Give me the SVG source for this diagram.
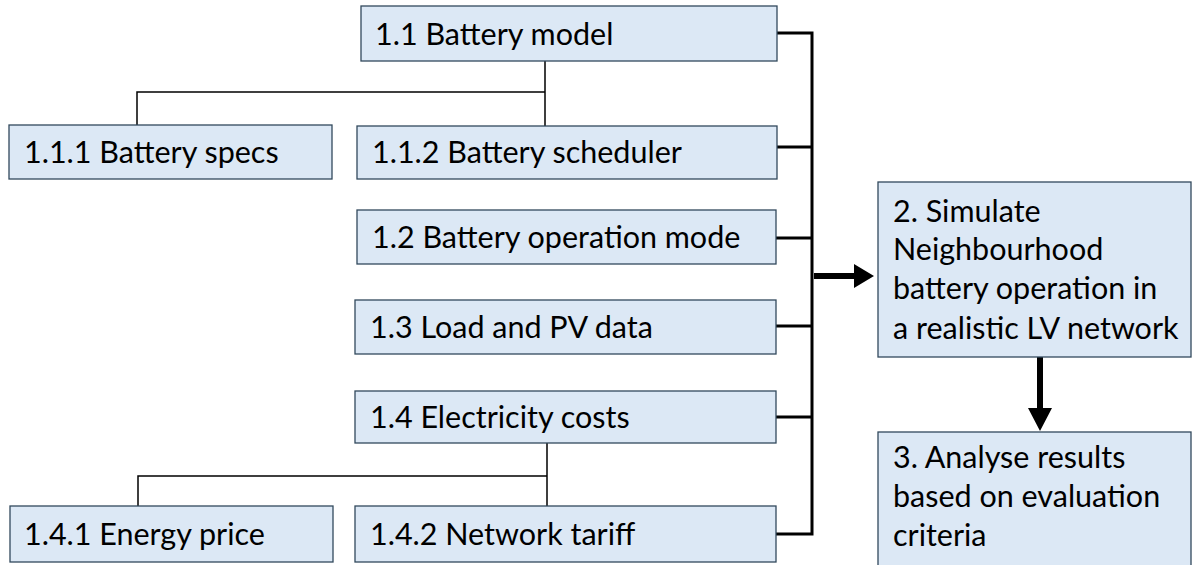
<svg xmlns="http://www.w3.org/2000/svg" width="1192" height="565" viewBox="0 0 1192 565">
  <style>
    .box { fill: #dce8f5; stroke: #32495c; stroke-width: 1.3; }
    .lbl { font-family: Lato, "Noto Sans", sans-serif; font-size: 30.5px; fill: #000; }
    .thin { fill: none; stroke: #000; stroke-width: 1.5; }
    .bus { fill: none; stroke: #000; stroke-width: 3; }
  </style>
  <rect width="1192" height="565" fill="#fff"/>

  <g id="connectors">
    <!-- tree links -->
    <path class="thin" d="M545 61 V126 M545 92 H137 V125"/>
    <path class="thin" d="M547 443 V506 M547 476 H138 V506"/>
    <!-- collector bus -->
    <path class="bus" d="M777 33 H812 V534 H776 M777 147 H812 M776 238 H812 M776 326 H812 M776 417 H812"/>
    <!-- arrow to simulation -->
    <path d="M814 273 H854 V264 L874 276 L854 288 V279 H814 Z" fill="#000"/>
    <!-- arrow to analysis -->
    <path d="M1037 357 H1043 V408 H1052 L1040 431 L1028 408 H1037 Z" fill="#000"/>
  </g>

  <g id="n11"><rect class="box" x="361" y="6" width="416" height="55"/><text class="lbl" x="375" y="45">1.1 Battery model</text></g>
  <g id="n111"><rect class="box" x="9" y="125" width="323" height="54"/><text class="lbl" x="24" y="163">1.1.1 Battery specs</text></g>
  <g id="n112"><rect class="box" x="357" y="126" width="420" height="53"/><text class="lbl" x="372" y="163">1.1.2 Battery scheduler</text></g>
  <g id="n12"><rect class="box" x="357" y="210" width="419" height="54"/><text class="lbl" x="372" y="248">1.2 Battery operation mode</text></g>
  <g id="n13"><rect class="box" x="355" y="300" width="421" height="54"/><text class="lbl" x="370" y="338">1.3 Load and PV data</text></g>
  <g id="n14"><rect class="box" x="355" y="391" width="421" height="52"/><text class="lbl" x="370" y="428">1.4 Electricity costs</text></g>
  <g id="n141"><rect class="box" x="10" y="506" width="323" height="56"/><text class="lbl" x="24" y="545">1.4.1 Energy price</text></g>
  <g id="n142"><rect class="box" x="355" y="506" width="421" height="56"/><text class="lbl" x="370" y="545">1.4.2 Network tariff</text></g>

  <g id="n2">
    <rect class="box" x="878" y="182" width="313" height="175"/>
    <text class="lbl" x="893" y="222">2. Simulate</text>
    <text class="lbl" x="893" y="260">Neighbourhood</text>
    <text class="lbl" x="893" y="299">battery operation in</text>
    <text class="lbl" x="893" y="339">a realistic LV network</text>
  </g>
  <g id="n3">
    <rect class="box" x="878" y="432" width="313" height="140"/>
    <text class="lbl" x="893" y="468">3. Analyse results</text>
    <text class="lbl" x="893" y="507">based on evaluation</text>
    <text class="lbl" x="893" y="546">criteria</text>
  </g>
</svg>
